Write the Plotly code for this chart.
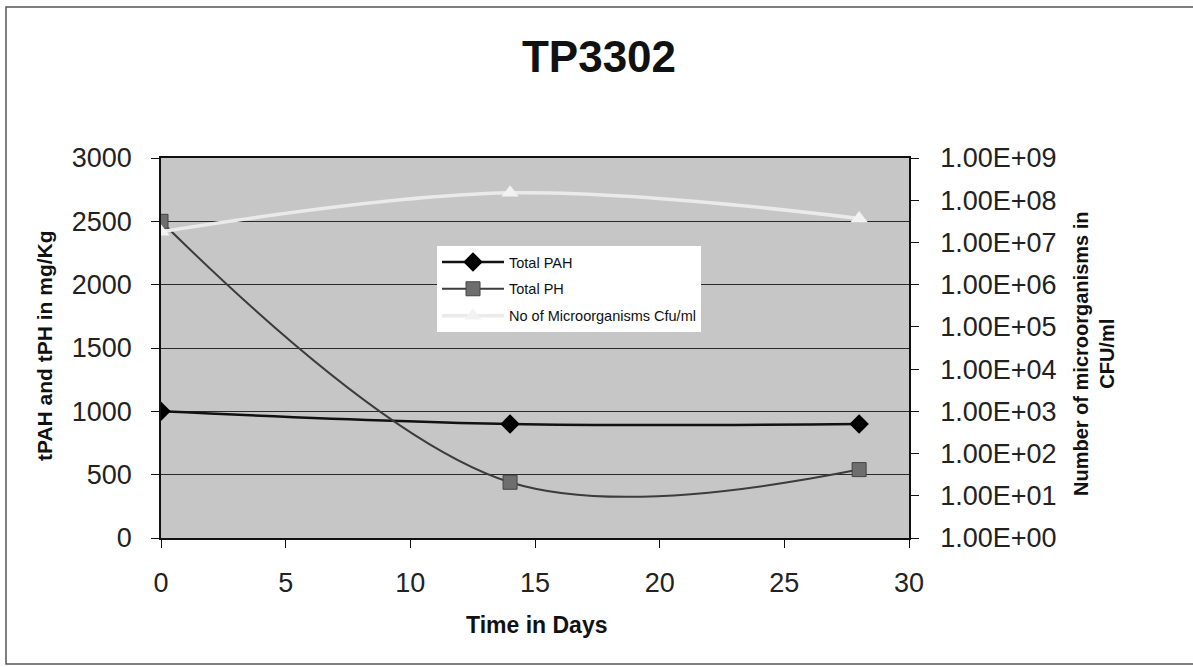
import plotly.graph_objects as go

# ---- data ----
days = [0, 14, 28]
total_pah = [1000, 900, 900]
total_ph = [2500, 440, 540]
microorganisms = [1.8e7, 1.5e8, 3.7e7]

x_ticks = [0, 5, 10, 15, 20, 25, 30]
left_ticks = [0, 500, 1000, 1500, 2000, 2500, 3000]
right_tick_vals = [1e0, 1e1, 1e2, 1e3, 1e4, 1e5, 1e6, 1e7, 1e8, 1e9]
right_tick_text = ["1.00E+00", "1.00E+01", "1.00E+02", "1.00E+03", "1.00E+04",
                   "1.00E+05", "1.00E+06", "1.00E+07", "1.00E+08", "1.00E+09"]

FONT = "Liberation Sans, Arial, sans-serif"
W, H = 1193, 667
L, R, T, B = 161, 284, 158, 129

fig = go.Figure()

fig.add_trace(go.Scatter(
    x=days, y=total_pah, name="Total PAH", mode="lines+markers",
    line=dict(color="#111111", width=2.5, shape="spline", smoothing=1),
    marker=dict(symbol="diamond", size=15, color="#000000"),
    legendgroup="a"))

fig.add_trace(go.Scatter(
    x=days, y=total_ph, name="Total PH", mode="lines+markers",
    line=dict(color="#3c3c3c", width=2, shape="spline", smoothing=1),
    marker=dict(symbol="square", size=14, color="#6e6e6e",
                line=dict(color="#444444", width=1)),
    legendgroup="b"))

fig.add_trace(go.Scatter(
    x=days, y=microorganisms, name="No of Microorganisms Cfu/ml",
    mode="lines+markers", yaxis="y2",
    line=dict(color="#eaeaea", width=3.5, shape="spline", smoothing=1),
    marker=dict(symbol="triangle-up", size=15, color="#f2f2f2"),
    legendgroup="c"))

fig.update_layout(
    width=W, height=H,
    margin=dict(l=L, r=R, t=T, b=B),
    paper_bgcolor="white",
    plot_bgcolor="#c6c6c6",
    font=dict(family=FONT, color="#111111"),
    showlegend=True,
    legend=dict(
        x=(437 - L) / (W - L - R), y=(538 - 246) / (H - T - B),
        xanchor="left", yanchor="top",
        bgcolor="white", borderwidth=0,
        font=dict(family=FONT, size=14.5, color="#111111"),
        traceorder="grouped", tracegroupgap=5,
        itemwidth=62,
    ),
    xaxis=dict(
        range=[0, 30], tickvals=x_ticks, ticktext=[str(v) for v in x_ticks],
        showgrid=False, zeroline=False,
        showline=True, linecolor="#111111", linewidth=1.5, mirror=True,
        ticks="outside", ticklen=8, tickcolor="#111111",
        tickfont=dict(size=27, family=FONT, color="#222222"),
        ticklabelstandoff=12,
    ),
    yaxis=dict(
        range=[0, 3000], tickvals=left_ticks,
        ticktext=[str(v) for v in left_ticks],
        showgrid=True, gridcolor="#2a2a2a", gridwidth=1,
        zeroline=False,
        showline=True, linecolor="#111111", linewidth=1.5,
        ticks="outside", ticklen=8, tickcolor="#111111",
        tickfont=dict(size=27, family=FONT, color="#222222"),
        ticklabelstandoff=14,
    ),
    yaxis2=dict(
        type="log", range=[0, 9], overlaying="y", side="right",
        tickvals=right_tick_vals, ticktext=right_tick_text,
        showgrid=False, zeroline=False,
        showline=True, linecolor="#111111", linewidth=1.5,
        ticks="outside", ticklen=8, tickcolor="#111111",
        tickfont=dict(size=27, family=FONT, color="#222222"),
        ticklabelstandoff=16,
    ),
    title=dict(
        text="<b>TP3302</b>", x=(599) / W, xanchor="center",
        y=1 - 57 / H, yanchor="middle",
        font=dict(size=44, family=FONT, color="#111111"),
    ),
    annotations=[
        dict(text="<b>Time in Days</b>", xref="paper", yref="paper",
             x=(536 - L) / (W - L - R), y=-(625 - 538) / (H - T - B),
             xanchor="center", yanchor="middle", showarrow=False,
             font=dict(size=23, family=FONT, color="#111111")),
        dict(text="<b>tPAH and tPH in mg/Kg</b>", xref="paper", yref="paper",
             x=-(161 - 44) / (W - L - R), y=(538 - 346) / (H - T - B),
             xanchor="center", yanchor="middle", showarrow=False,
             textangle=-90,
             font=dict(size=21, family=FONT, color="#111111")),
        dict(text="<b>Number of microorganisms in<br>CFU/ml</b>",
             xref="paper", yref="paper",
             x=(1094 - L) / (W - L - R), y=(538 - 354) / (H - T - B),
             xanchor="center", yanchor="middle", showarrow=False,
             textangle=-90,
             font=dict(size=20, family=FONT, color="#111111")),
    ],
    shapes=[
        dict(type="rect", xref="paper", yref="paper",
             x0=-(161 - 6) / (W - L - R), x1=(1195 - L) / (W - L - R),
             y0=-(664 - 538) / (H - T - B), y1=(538 - 7) / (H - T - B),
             line=dict(color="#555555", width=1.5), fillcolor="rgba(0,0,0,0)",
             layer="below"),
    ],
)

fig.write_html("out.html")
